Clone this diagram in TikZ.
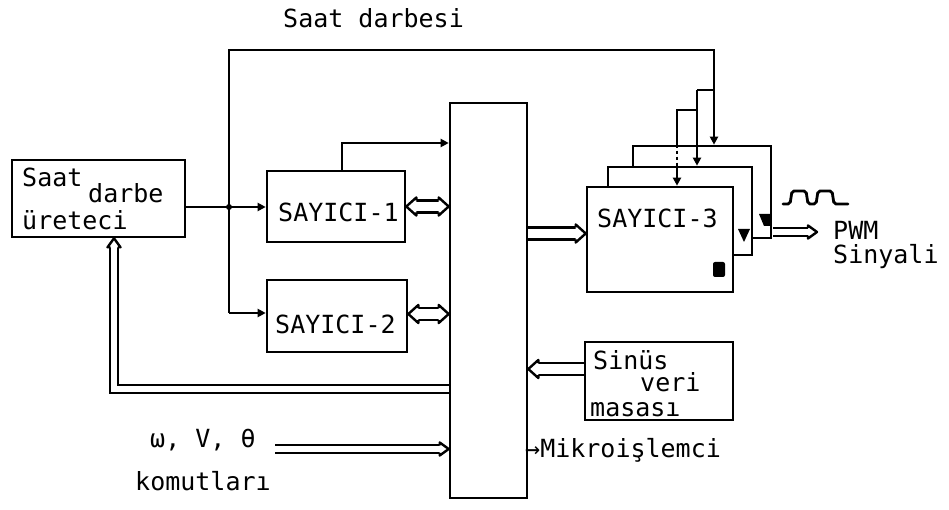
\documentclass[tikz,border=0pt]{standalone}
\usepackage{fontspec}
\setmainfont{DejaVu Sans Mono}
\usetikzlibrary{arrows.meta}
\pgfdeclarelayer{bg}
\pgfsetlayers{bg,main}
\begin{document}
\begin{tikzpicture}[x=1pt,y=-1pt,
  box/.style={draw,line width=2.6pt,inner sep=0pt,rectangle},
  wbox/.style={box,fill=white},
  lbl/.style={inner sep=0pt,anchor=base west,font=\fontsize{25}{28}\selectfont},
  ln/.style={line width=2.6pt},
  sarr/.style={ln,-{Triangle[length=8pt,width=8pt]}},
  dbl/.style={double,line width=2.4pt,double distance=9.6pt},
  dbls/.style={double,line width=2.4pt,double distance=5.1pt},
  bhead/.pic={\fill[white] (-10,-9) -- (0,0) -- (-10,9) -- cycle;
    \draw[line width=2.4pt,line join=round] (-10,-6) -- (-10,-9) -- (0,0) -- (-10,9) -- (-10,6);},
  shead/.pic={\fill[white] (-9,-6.5) -- (0,0) -- (-9,6.5) -- cycle;
    \draw[line width=2.4pt,line join=round] (-9,-3.75) -- (-9,-6.5) -- (0,0) -- (-9,6.5) -- (-9,3.75);},
]
\useasboundingbox (0,0) rectangle (949,510);

% boxes
\node[box,minimum width=173pt,minimum height=77pt] (clk) at (98.5,198.5) {};
\node[box,minimum width=138pt,minimum height=71pt] (c1) at (336,206.5) {};
\node[box,minimum width=140pt,minimum height=72pt] (c2) at (337,316) {};
\node[box,minimum width=77pt,minimum height=395pt] (mp) at (488.5,300.5) {};
\node[wbox,minimum width=138pt,minimum height=92pt] (c3c) at (702,192) {};
\node[wbox,minimum width=144pt,minimum height=88pt] (c3b) at (680,211) {};
\node[wbox,minimum width=146pt,minimum height=105pt] (c3) at (660,239.5) {};
\node[box,minimum width=148pt,minimum height=78pt] (sin) at (659,381) {};

% labels
\node[lbl] (tsaat) at (22,187) {Saat};
\node[lbl] (tdarbe) at (88,203) {darbe};
\node[lbl] (turet) at (22,230) {üreteci};
\node[lbl] (ttitle) at (283,28) {Saat darbesi};
\node[lbl] (t1) at (278,222) {SAYICI-1};
\node[lbl] (t2) at (275,333) {SAYICI-2};
\node[lbl] (t3) at (597,228) {SAYICI-3};
\node[lbl] (tpwm) at (833,240) {PWM};
\node[lbl] (tsny) at (833,264) {Sinyali};
\node[lbl] (tsin) at (593,369) {Sinüs};
\node[lbl] (tveri) at (640,391) {veri};
\node[lbl] (tmas) at (590,416) {masası};
\node[lbl] (tcmd) at (150,447) {ω, V, θ};
\node[lbl] (tkom) at (135,490) {komutları};
\node[lbl] (tmik) at (525,457) {→Mikroişlemci};

% coordinates
\coordinate (jt) at (229,50);
\coordinate (j1) at (229,207);
\coordinate (j2) at (229,313);
\coordinate (tr) at (714,50);
\coordinate (s1) at (714,90);
\coordinate (s1b) at (697,90);
\coordinate (s2) at (697,110);
\coordinate (s2b) at (677,110);
\coordinate (u1) at (342,143);
\coordinate (y2) at (0,314);
\coordinate (y3) at (0,233.5);
\coordinate (y4) at (0,369);
\coordinate (fb) at (114,389);
\coordinate (cm) at (275,449);
\coordinate (o1) at (773,232);
\coordinate (o2) at (817,232);

% double-line buses
\begin{pgfonlayer}{bg}
\draw[dbl,shorten <=10pt,shorten >=10pt] (c1.east) -- (c1.east -| mp.west);
\draw[dbl,shorten <=10pt,shorten >=10pt] (c2.east |- y2) -- (mp.west |- y2);
\draw[dbl,shorten >=10pt] (mp.east |- y3) -- (c3.west |- y3);
\draw[dbl,shorten >=10pt] (sin.west |- y4) -- (mp.east |- y4);
\draw[dbls,shorten >=9pt] (mp.west |- fb) -- (fb) -- (fb |- clk.south);
\draw[dbls,shorten >=9pt] (cm) -- (cm -| mp.west);
\draw[dbls,shorten >=9pt] (o1) -- (o2);
\end{pgfonlayer}
\pic at (c1.east -| mp.west) {bhead};
\pic[rotate=180] at (c1.east) {bhead};
\pic at (mp.west |- y2) {bhead};
\pic[rotate=180] at (c2.east |- y2) {bhead};
\pic at (c3.west |- y3) {bhead};
\pic[rotate=180] at (mp.east |- y4) {bhead};
\pic[rotate=90] at (fb |- clk.south) {shead};
\pic at (cm -| mp.west) {shead};
\pic at (o2) {shead};

% clock lines
\draw[ln] (clk.east |- j1) -- (j1);
\fill (j1) circle (3pt);
\draw[sarr] (j1) -- (j1 -| c1.west);
\draw[ln] (jt) -- (j2);
\draw[sarr] (j2) -- (j2 -| c2.west);
\draw[ln,line cap=rect] (jt) -- (tr);
\draw[sarr] (tr) -- (tr |- c3c.north);
\draw[ln] (s1) -- (s1b);
\draw[sarr] (s1b) -- (s1b |- c3b.north);
\draw[ln] (s2) -- (s2b) -- (s2b |- c3c.north);
\draw[ln,dashed] (s2b |- c3c.north) -- (s2b |- c3b.north);
\draw[sarr] (s2b |- c3b.north) -- (s2b |- c3.north);
\draw[sarr] (c1.north -| u1) -- (u1) -- (u1 -| mp.west);

% output markers
\fill (759,214) -- (771,214) -- (771,226) -- (764,226) -- cycle;
\fill (738,229) -- (750,229) -- (744,242) -- cycle;
\fill[rounded corners=2pt] (713,262) rectangle (725,277);

% PWM pulse
\draw[line width=2.8pt,line cap=round,rounded corners=2pt]
  (783,204) -- (790,204) -- (792,191) -- (806,191) -- (808,204) -- (816,204)
  -- (818,191) -- (832,191) -- (834,204) -- (848,204);
\end{tikzpicture}
\end{document}
